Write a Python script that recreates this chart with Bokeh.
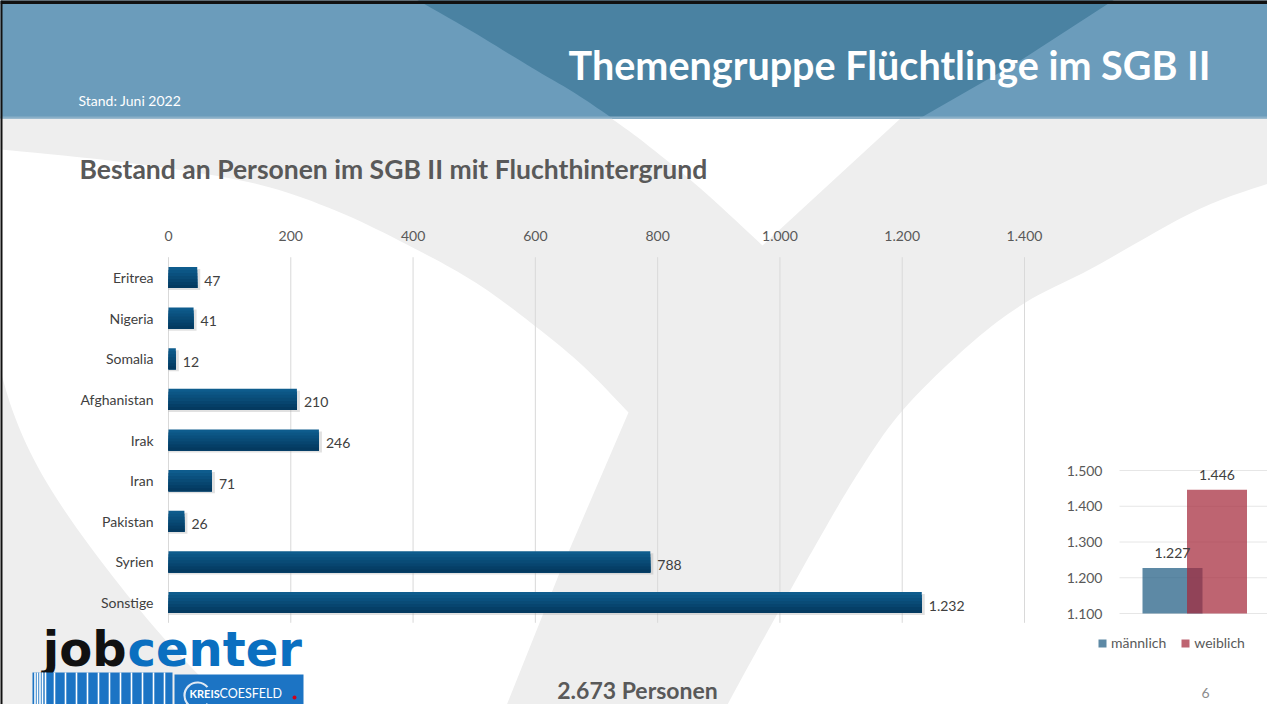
import numpy as np
from bokeh.plotting import figure
from bokeh.models import Range1d, LinearAxis, FixedTicker, Legend, LegendItem
from bokeh.core.properties import value
from bokeh.embed import file_html
from bokeh.resources import INLINE

# ---------------- data ----------------
countries = ["Eritrea", "Nigeria", "Somalia", "Afghanistan", "Irak", "Iran", "Pakistan", "Syrien", "Sonstige"]
persons = [47, 41, 12, 210, 246, 71, 26, 788, 1232]
x_ticks = [0, 200, 400, 600, 800, 1000, 1200, 1400]
genders = ["männlich", "weiblich"]
gender_values = [1227, 1446]
gender_ticks = [1100, 1200, 1300, 1400, 1500]

title = "Themengruppe Flüchtlinge im SGB II"
subtitle = "Bestand an Personen im SGB II mit Fluchthintergrund"
stand = "Stand: Juni 2022"
page_no = "6"


def de(n):
    return f"{int(n):,}".replace(",", ".")


FONT = value("Lato")

# ---------------- layout (pixels) ----------------
W, H = 1267, 704
OX, OY = 0, 0
M_X0, M_X1 = 168, 1024          # where 0 and the last tick of the main axis sit
M_Y_FIRST, M_STEP = 277, 40.625  # first category centre, category pitch
G_Y0, G_Y1 = 613, 470            # small chart: first and last tick
G_XC0, G_DX = 1172, 44.5         # small chart: first bar centre, bar pitch

p = figure(width=W, height=H, x_range=Range1d(OX, OX + W), y_range=Range1d(OY + H, OY),
           output_backend="svg", toolbar_location=None, min_border=0,
           x_axis_location=None, y_axis_location=None,
           background_fill_color="#eeeeee", border_fill_color="#eeeeee",
           outline_line_color=None)
p.grid.visible = False

sx = (M_X1 - M_X0) / x_ticks[-1]
p.extra_x_ranges["bars"] = Range1d((OX - M_X0) / sx, (OX + W - M_X0) / sx)
p.extra_y_ranges["cats"] = Range1d((OY + H - M_Y_FIRST) / M_STEP, (OY - M_Y_FIRST) / M_STEP)
sg = (G_Y0 - G_Y1) / (gender_ticks[-1] - gender_ticks[0])
gb = gender_ticks[0]
p.extra_y_ranges["gv"] = Range1d(gb + (G_Y0 - (OY + H)) / sg, gb + (G_Y0 - OY) / sg)
p.extra_x_ranges["gx"] = Range1d((OX - G_XC0) / G_DX, (OX + W - G_XC0) / G_DX)


# ---------------- background decoration ----------------
def smooth(pts, n=10):
    pts = np.asarray(pts, float)
    P = np.vstack([pts[0], pts, pts[-1]])
    out = []
    for i in range(1, len(P) - 2):
        p0, p1, p2, p3 = P[i - 1], P[i], P[i + 1], P[i + 2]
        for t in np.linspace(0, 1, n, endpoint=False):
            t2, t3 = t * t, t * t * t
            out.append(0.5 * ((2 * p1) + (-p0 + p2) * t + (2 * p0 - 5 * p1 + 4 * p2 - p3) * t2
                              + (-p0 + 3 * p1 - 3 * p2 + p3) * t3))
    out.append(pts[-1])
    return np.array(out)


c2 = smooth([(-10, 148), (125, 162), (250, 182), (335, 210), (414, 248), (475, 282),
             (530, 322), (582, 365), (628, 412)])
left_edge = smooth([(250, 725), (170, 645), (100, 560), (45, 480), (12, 410), (-10, 330)])
w1 = np.vstack([c2, [(560, 570), (498, 725)], left_edge])
p.patch(w1[:, 0], w1[:, 1], fill_color="white", line_color=None)

c1 = smooth([(762, 245), (700, 188), (645, 143), (611, 118)])
w2 = np.vstack([[(900, 118)], c1])
p.patch(w2[:, 0], w2[:, 1], fill_color="white", line_color=None)

c3 = smooth([(1290, 176), (1200, 208), (1091, 268), (1025, 302), (968, 345), (902, 410),
             (858, 472), (816, 543), (772, 622), (740, 680), (716, 725)])
w3 = np.vstack([c3, [(1290, 725)]])
p.patch(w3[:, 0], w3[:, 1], fill_color="white", line_color=None)

# header
p.quad(left=-10, right=1290, top=-10, bottom=118, fill_color="#6b9cbb", line_color=None)
hl = smooth([(400, -10), (470, 30), (531, 67), (575, 93), (612, 118)])
hd = np.vstack([hl, [(919, 118), (1020, 60), (1128, -10)]])
p.patch(hd[:, 0], hd[:, 1], fill_color="#4a82a2", line_color=None)
p.segment(x0=-10, x1=1290, y0=117, y1=117, line_color="#8aafc7", line_width=2)
# slide frame
p.segment(x0=[0, 0], x1=[1290, 0], y0=[1.5, 0], y1=[1.5, 725], line_color="#111111", line_width=4)

p.text(x=[1210], y=[64], text=[title], text_font=FONT, text_font_style="bold",
       text_font_size="39.5px", text_color="white", text_align="right", text_baseline="middle")
p.text(x=[78], y=[100], text=[stand], text_font=FONT, text_font_size="14px",
       text_color="white", text_align="left", text_baseline="middle")
p.text(x=[79], y=[168], text=[subtitle], text_font=FONT, text_font_style="bold",
       text_font_size="26.5px", text_color="#595959", text_align="left", text_baseline="middle")

# ---------------- main bar chart ----------------
idx = list(range(len(countries)))
p.segment(x0=x_ticks, x1=x_ticks, y0=-0.5, y1=len(countries) - 0.5,
          x_range_name="bars", y_range_name="cats", line_color="#d9d9d9", line_width=1)

bar_h = 0.52
# soft shadow
p.hbar(y=[i + 0.05 for i in idx], left=0, right=[v + 3 / sx for v in persons], height=bar_h,
       x_range_name="bars", y_range_name="cats", fill_color="#9a9a9a", fill_alpha=0.3,
       line_color=None)
n_sl = 7
top_c = np.array([14, 92, 141])
bot_c = np.array([4, 58, 96])
for k in range(n_sl):
    f = k / (n_sl - 1)
    col = tuple(int(v) for v in top_c * (1 - f) + bot_c * f)
    top_k = [i - bar_h / 2 + k * bar_h / n_sl for i in idx]
    bot_k = [i + bar_h / 2 for i in idx]
    p.hbar(y=[(a + b) / 2 for a, b in zip(top_k, bot_k)], left=0, right=persons,
           height=bar_h * (n_sl - k) / n_sl,
           x_range_name="bars", y_range_name="cats",
           fill_color="#%02x%02x%02x" % col, line_color=None)

p.text(x=persons, y=idx, text=[de(v) for v in persons], x_offset=7, y_offset=3,
       x_range_name="bars", y_range_name="cats", text_font=FONT, text_font_size="14px",
       text_color="#404040", text_align="left", text_baseline="middle")

xa = LinearAxis(x_range_name="bars", ticker=FixedTicker(ticks=x_ticks),
                major_label_overrides={t: de(t) for t in x_ticks},
                fixed_location=252, axis_line_color=None, major_tick_line_color=None,
                minor_tick_line_color=None, major_label_standoff=6,
                major_label_text_font="Lato", major_label_text_font_size="14px",
                major_label_text_color="#595959")
p.add_layout(xa, "above")

ya = LinearAxis(y_range_name="cats", ticker=FixedTicker(ticks=idx),
                major_label_overrides={i: c for i, c in enumerate(countries)},
                fixed_location=M_X0, axis_line_color=None, major_tick_line_color=None,
                minor_tick_line_color=None, major_label_standoff=9,
                major_label_text_font="Lato", major_label_text_font_size="14px",
                major_label_text_color="#404040")
p.add_layout(ya, "left")

# ---------------- small gender chart ----------------
p.segment(x0=1119, x1=1269, y0=gender_ticks, y1=gender_ticks, y_range_name="gv",
          line_color="#e6e6e6", line_width=1)
g_cols = ["#1f5b82", "#a5283a"]
g_rends = []
for i, (g, v) in enumerate(zip(genders, gender_values)):
    r = p.vbar(x=[i], top=[v], bottom=gb, width=60 / G_DX, x_range_name="gx", y_range_name="gv",
               fill_color=g_cols[i], fill_alpha=0.72, line_color=None)
    g_rends.append(r)
p.text(x=list(range(len(genders))), y=gender_values, text=[de(v) for v in gender_values],
       y_offset=-15, x_range_name="gx", y_range_name="gv", text_font=FONT,
       text_font_size="14px", text_color="#404040", text_align="center", text_baseline="middle")

ga = LinearAxis(y_range_name="gv", ticker=FixedTicker(ticks=gender_ticks),
                major_label_overrides={t: de(t) for t in gender_ticks},
                fixed_location=1111, axis_line_color=None, major_tick_line_color=None,
                minor_tick_line_color=None, major_label_standoff=3,
                major_label_text_font="Lato", major_label_text_font_size="14px",
                major_label_text_color="#595959")
p.add_layout(ga, "left")

legend = Legend(items=[LegendItem(label=g, renderers=[r]) for g, r in zip(genders, g_rends)],
                orientation="horizontal", location=(1097, 704 - 651), background_fill_alpha=0,
                border_line_color=None, padding=0, margin=0, spacing=14, label_standoff=4,
                glyph_width=10, glyph_height=10, label_height=16,
                label_text_font="Lato", label_text_font_size="14px", label_text_color="#595959")
p.add_layout(legend)

# ---------------- footer ----------------
p.text(x=[637], y=[689], text=[de(sum(persons)) + " Personen"], text_font=FONT,
       text_font_style="bold", text_font_size="23px", text_color="#595959",
       text_align="center", text_baseline="middle")
p.text(x=[1205], y=[692], text=[page_no], text_font=FONT, text_font_size="14px",
       text_color="#8c8c8c", text_align="center", text_baseline="middle")

# logo
p.text(x=[126], y=[648], text=["job"], text_font=value("DejaVu Sans"), text_font_style="bold",
       text_font_size="48px", text_color="#111111", text_align="right", text_baseline="middle")
p.text(x=[127], y=[648], text=["center"], text_font=value("DejaVu Sans"), text_font_style="bold",
       text_font_size="48px", text_color="#0a6fc0", text_align="left", text_baseline="middle")
p.quad(left=32, right=172, top=672, bottom=713, fill_color="#1c74c4", line_color=None)
gaps = [34.5, 37, 39.5, 42, 45, 54, 65, 76, 87, 98, 109, 120, 131, 142, 153, 164]
p.segment(x0=gaps, x1=gaps, y0=672, y1=713, line_color="white", line_width=1.6)
p.quad(left=174, right=303, top=674, bottom=713, fill_color="#1c74c4", line_color=None)
p.arc(x=[197], y=[695], radius=13, radius_units="screen", start_angle=0.7, end_angle=5.6,
      line_color="#dfe9f4", line_width=2.2)
p.text(x=[189], y=[693], text=["KREIS"], text_font=FONT, text_font_style="bold",
       text_font_size="11px", text_color="white", text_align="left", text_baseline="middle")
p.text(x=[219], y=[693], text=["COESFELD"], text_font=FONT, text_font_size="12.5px",
       text_color="white", text_align="left", text_baseline="middle")
p.scatter(x=[294], y=[697], size=4, marker="circle", fill_color="#d0021b", line_color=None)

open("out.html", "w").write(file_html(p, INLINE))
